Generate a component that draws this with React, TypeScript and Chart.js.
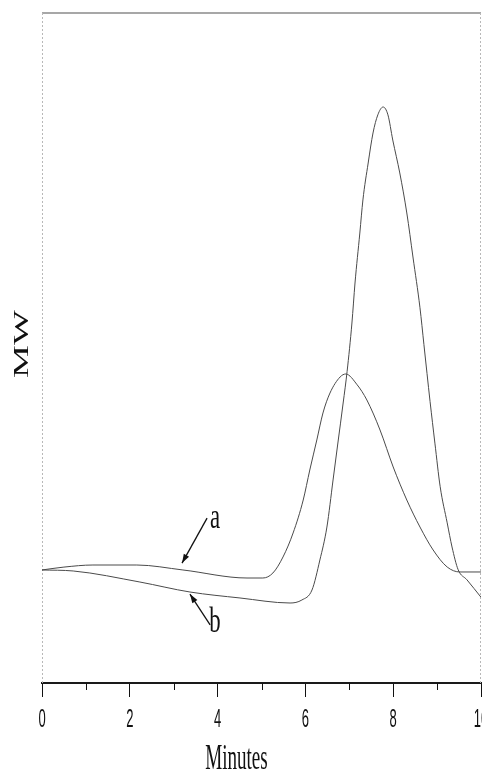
import React, { useEffect, useRef } from 'react';
import { Chart, registerables } from 'chart.js';

Chart.register(...registerables);

// ---- data ----
const minutesA = [0, 0.5, 1.16, 2.16, 3.21, 4.67, 5.03, 5.26, 5.49, 5.72, 5.95, 6.1, 6.26, 6.4, 6.56, 6.79, 6.92, 7.18, 7.4, 7.7, 8.0, 8.31, 8.61, 8.91, 9.23, 9.52, 10];
const mwA = [16.87, 17.3, 17.61, 17.61, 16.87, 15.67, 15.67, 16.42, 18.81, 22.39, 27.31, 31.79, 36.27, 40.3, 43.28, 45.67, 46.12, 44.5, 42.24, 37.76, 32.24, 27.31, 23.28, 19.85, 17.31, 16.57, 16.57];

const minutesB = [0, 0.71, 2.23, 3.37, 4.51, 5.65, 5.92, 6.15, 6.33, 6.49, 6.63, 6.74, 6.86, 6.95, 7.06, 7.13, 7.24, 7.31, 7.43, 7.54, 7.65, 7.77, 7.88, 7.99, 8.15, 8.31, 8.45, 8.61, 8.7, 8.84, 8.95, 9.07, 9.23, 9.34, 9.48, 9.68, 10];
const mwB = [16.87, 16.72, 15.07, 13.58, 12.69, 11.94, 12.39, 13.88, 18.36, 23.28, 30.3, 35.82, 41.79, 46.5, 53.73, 59.7, 67.16, 72.09, 77.61, 82.09, 84.8, 85.97, 84.8, 81.04, 76.12, 70.15, 63.58, 56.0, 50.5, 42.0, 35.8, 29.3, 23.9, 20.3, 16.9, 15.4, 12.8];

const xTickValues = [0, 2, 4, 6, 8, 10];
const xTickLabels = ['0', '2', '4', '6', '8', '10'];
const seriesNames = ['a', 'b'];
const xTitle = 'Minutes';
const yTitle = 'MW';

// callout arrows (data coordinates): tail, head, label baseline
const calloutTail = [[3.76, 24.6], [3.83, 8.66]];
const calloutHead = [[3.19, 17.9], [3.37, 13.28]];
const calloutLabelPos = [[3.94, 23.1], [3.94, 7.6]];

function drawText(ctx: CanvasRenderingContext2D, text: string, x: number, y: number, font: string, sx: number, sy: number, rot = 0) {
  ctx.save();
  ctx.translate(x, y);
  if (rot) ctx.rotate(rot);
  ctx.scale(sx, sy);
  ctx.font = font;
  ctx.fillStyle = '#111';
  ctx.textAlign = 'center';
  ctx.textBaseline = 'alphabetic';
  ctx.fillText(text, 0, 0);
  ctx.restore();
}

const decorPlugin = {
  id: 'decor',
  beforeDatasetsDraw(chart: any) {
    const { ctx, chartArea: a } = chart;
    ctx.save();
    ctx.strokeStyle = '#8a8a8a';
    ctx.lineWidth = 1.5;
    ctx.beginPath();
    ctx.moveTo(a.left, a.top);
    ctx.lineTo(a.right, a.top);
    ctx.stroke();
    ctx.strokeStyle = '#b8b8b8';
    ctx.lineWidth = 1;
    ctx.setLineDash([2, 2]);
    ctx.beginPath();
    ctx.moveTo(a.left + 0.5, a.top);
    ctx.lineTo(a.left + 0.5, a.bottom);
    ctx.moveTo(a.right - 0.5, a.top);
    ctx.lineTo(a.right - 0.5, a.bottom);
    ctx.stroke();
    ctx.restore();
  },
  afterDraw(chart: any) {
    const { ctx, chartArea: a } = chart;
    const xs = chart.scales.x;
    const ys = chart.scales.y;
    ctx.save();
    ctx.strokeStyle = '#111';
    ctx.lineWidth = 1;
    for (const t of xs.ticks) {
      if (xTickValues.includes(t.value)) continue;
      const px = Math.round(xs.getPixelForValue(t.value)) + 0.5;
      ctx.beginPath();
      ctx.moveTo(px, a.bottom);
      ctx.lineTo(px, a.bottom + 7);
      ctx.stroke();
    }
    for (const t of xs.ticks) {
      const i = xTickValues.indexOf(t.value);
      if (i < 0) continue;
      drawText(ctx, xTickLabels[i], xs.getPixelForValue(t.value), a.bottom + 44, '26px "Liberation Sans"', 0.5, 1);
    }
    drawText(ctx, xTitle, xs.getPixelForValue(4.43), a.bottom + 86, '36px "Liberation Serif"', 0.53, 1);
    drawText(ctx, yTitle, 28, (a.top + a.bottom) / 2 - 4, '20px "Liberation Serif"', 1.85, 1, -Math.PI / 2);
    for (let k = 0; k < seriesNames.length; k++) {
      const tx = xs.getPixelForValue(calloutTail[k][0]);
      const ty = ys.getPixelForValue(calloutTail[k][1]);
      const hx = xs.getPixelForValue(calloutHead[k][0]);
      const hy = ys.getPixelForValue(calloutHead[k][1]);
      ctx.strokeStyle = '#111';
      ctx.fillStyle = '#111';
      ctx.lineWidth = 1.3;
      ctx.beginPath();
      ctx.moveTo(tx, ty);
      ctx.lineTo(hx, hy);
      ctx.stroke();
      const ang = Math.atan2(hy - ty, hx - tx);
      const L = 9, W = 3;
      ctx.beginPath();
      ctx.moveTo(hx, hy);
      ctx.lineTo(hx - L * Math.cos(ang) + W * Math.sin(ang), hy - L * Math.sin(ang) - W * Math.cos(ang));
      ctx.lineTo(hx - L * Math.cos(ang) - W * Math.sin(ang), hy - L * Math.sin(ang) + W * Math.cos(ang));
      ctx.closePath();
      ctx.fill();
      drawText(ctx, seriesNames[k], xs.getPixelForValue(calloutLabelPos[k][0]), ys.getPixelForValue(calloutLabelPos[k][1]), '35px "Liberation Serif"', 0.65, 1);
    }
    ctx.restore();
  },
};

export default function App() {
  const ref = useRef<HTMLCanvasElement>(null);
  useEffect(() => {
    if (!ref.current) return;
    const chart = new Chart(ref.current, {
      type: 'line',
      data: {
        datasets: [
          {
            label: seriesNames[0],
            data: minutesA.map((x, i) => ({ x, y: mwA[i] })),
            borderColor: '#4a4a4a',
            borderWidth: 1,
            pointRadius: 0,
            cubicInterpolationMode: 'monotone',
          },
          {
            label: seriesNames[1],
            data: minutesB.map((x, i) => ({ x, y: mwB[i] })),
            borderColor: '#4a4a4a',
            borderWidth: 1,
            pointRadius: 0,
            cubicInterpolationMode: 'monotone',
          },
        ],
      },
      options: {
        animation: false,
        responsive: false,
        devicePixelRatio: 1,
        layout: { padding: { left: 42, right: 1, top: 13, bottom: 0 } },
        plugins: { legend: { display: false }, tooltip: { enabled: false } },
        scales: {
          x: {
            type: 'linear',
            min: 0,
            max: 10,
            ticks: { stepSize: 1, display: false },
            grid: {
              drawOnChartArea: false,
              drawTicks: true,
              tickLength: 14,
              tickColor: (c: any) => (c.tick && xTickValues.includes(c.tick.value) ? '#111' : 'rgba(0,0,0,0)'),
            },
            border: { display: true, color: '#1a1a1a', width: 2 },
            afterFit: (s: any) => {
              s.height = 89;
              s.paddingLeft = 0;
              s.paddingRight = 0;
            },
          },
          y: { type: 'linear', min: 0, max: 100, display: false },
        },
      },
      plugins: [decorPlugin],
    } as any);
    return () => chart.destroy();
  }, []);
  return (
    <div style={{ position: 'fixed', left: 0, top: 0, width: 482, height: 772, background: '#fff' }}>
      <canvas ref={ref} width={482} height={772} style={{ display: 'block' }} />
    </div>
  );
}
